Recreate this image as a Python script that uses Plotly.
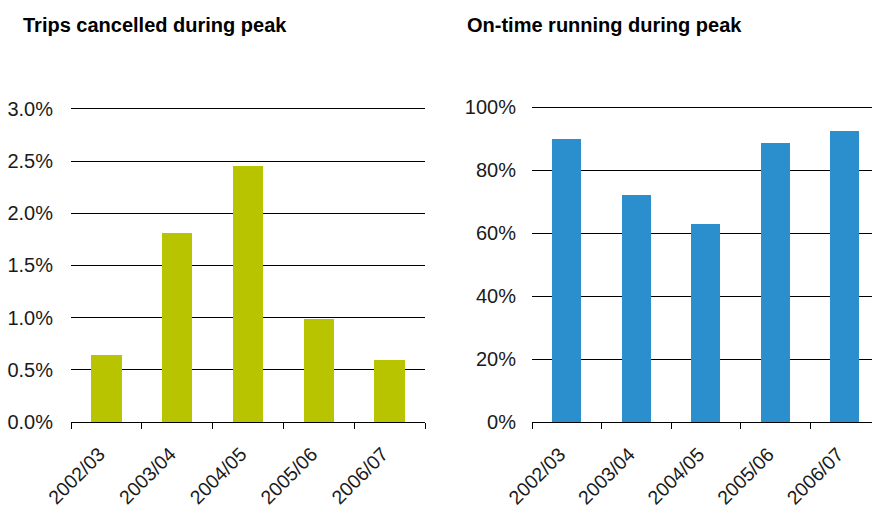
import plotly.graph_objects as go

# Financial years shown on both panels
years = ["2002/03", "2003/04", "2004/05", "2005/06", "2006/07"]

# Share of peak trips cancelled (%)
cancelled_pct = [0.65, 1.82, 2.46, 0.99, 0.60]

# Share of peak services running on time (%)
on_time_pct = [90.0, 72.2, 63.0, 88.7, 92.5]

W, H = 872, 513
FONT = "Liberation Sans, Arial, sans-serif"
TXT = "#1a1a1a"

fig = go.Figure()

fig.add_trace(go.Bar(
    x=years, y=cancelled_pct, xaxis="x", yaxis="y",
    marker=dict(color="#B8C400", line=dict(width=0)), width=0.43,
    showlegend=False,
))
fig.add_trace(go.Bar(
    x=years, y=on_time_pct, xaxis="x2", yaxis="y2",
    marker=dict(color="#2B8FCE", line=dict(width=0)), width=0.42,
    showlegend=False,
))


def px_x(v):
    return v / W


def px_y(v):
    return 1 - v / H


# pixel scale of each value axis (bottom pixel, pixels per unit)
L_BOT, L_PPU = 422.0, 313.0 / 3.0
R_BOT, R_PPU = 422.3, 315.0 / 100.0
L_TOP_VAL, R_TOP_VAL = 3.1, 103.0

xaxis_common = dict(
    type="category", showgrid=False, showline=True, linecolor="#000", linewidth=1,
    ticks="outside", tickson="boundaries", ticklen=6, tickcolor="#000",
    tickangle=-45, tickfont=dict(family=FONT, size=19.5, color=TXT),
    zeroline=False, fixedrange=True, automargin=False,
)
yaxis_common = dict(
    showgrid=True, gridcolor="#000", gridwidth=1, zeroline=False,
    showline=False, ticks="", ticksuffix="%",
    tickfont=dict(family=FONT, size=20, color=TXT), fixedrange=True,
    automargin=False,
)

fig.update_layout(
    width=W, height=H,
    margin=dict(l=0, r=0, t=0, b=0),
    paper_bgcolor="white", plot_bgcolor="white",
    bargap=0,
    xaxis=dict(xaxis_common, domain=[px_x(71), px_x(425)], anchor="y",
               range=[-0.5, 4.5], ticklabelstandoff=12, ticklabelshift=-7),
    yaxis=dict(yaxis_common,
               domain=[px_y(L_BOT), px_y(L_BOT - L_TOP_VAL * L_PPU)], anchor="x",
               range=[0, L_TOP_VAL], tick0=0, dtick=0.5, tickformat=".1f",
               ticklabelstandoff=17),
    xaxis2=dict(xaxis_common, domain=[px_x(532), 1.0], anchor="y2",
                range=[-0.5, 4.39], ticklabelstandoff=12, ticklabelshift=-7),
    yaxis2=dict(yaxis_common,
                domain=[px_y(R_BOT), px_y(R_BOT - R_TOP_VAL * R_PPU)], anchor="x2",
                range=[0, R_TOP_VAL], tick0=0, dtick=20, tickformat="d",
                ticklabelstandoff=15),
    annotations=[
        dict(text="<b>Trips cancelled during peak</b>", xref="paper", yref="paper",
             x=px_x(21), y=px_y(25), xanchor="left", yanchor="middle",
             showarrow=False, font=dict(family=FONT, size=20, color="#000")),
        dict(text="<b>On-time running during peak</b>", xref="paper", yref="paper",
             x=px_x(465), y=px_y(25), xanchor="left", yanchor="middle",
             showarrow=False, font=dict(family=FONT, size=20, color="#000")),
    ],
)

fig.write_html("out.html")
